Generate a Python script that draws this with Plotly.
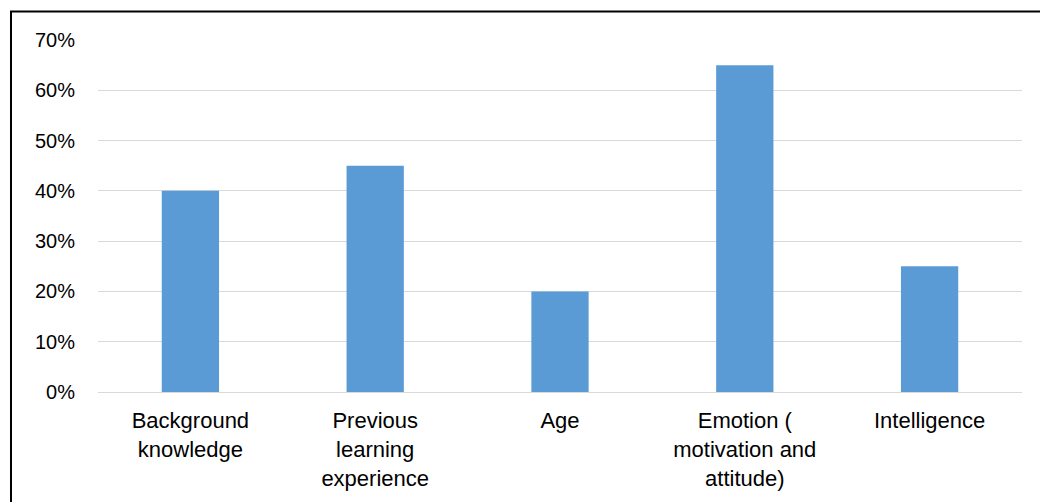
import plotly.graph_objects as go

# Factors and their share of responses
factors = [
    "Background<br>knowledge",
    "Previous<br>learning<br>experience",
    "Age",
    "Emotion (<br>motivation and<br>attitude)",
    "Intelligence",
]
shares = [0.40, 0.45, 0.20, 0.65, 0.25]
y_ticks = [0, 0.1, 0.2, 0.3, 0.4, 0.5, 0.6, 0.7]

W, H = 1040, 502
L, R, T, B = 98, 18, 40, 110

fig = go.Figure(
    go.Bar(
        x=factors,
        y=shares,
        marker=dict(color="#5b9bd5", line=dict(width=0)),
        width=0.31,
    )
)

# frame around the chart (left and top edges)
px_to_x = lambda p: (p - L) / (W - L - R)
px_to_y = lambda p: (H - B - p) / (H - T - B)
fig.add_shape(type="line", xref="paper", yref="paper",
              x0=px_to_x(11), x1=px_to_x(11), y0=px_to_y(11), y1=px_to_y(H + 5),
              line=dict(color="black", width=2))
fig.add_shape(type="line", xref="paper", yref="paper",
              x0=px_to_x(10), x1=px_to_x(W + 5), y0=px_to_y(11.5), y1=px_to_y(11.5),
              line=dict(color="black", width=2))

fig.update_layout(
    width=W,
    height=H,
    margin=dict(l=L, r=R, t=T, b=B),
    paper_bgcolor="white",
    plot_bgcolor="white",
    showlegend=False,
    font=dict(family="Liberation Sans, Arial, sans-serif", color="#000000"),
    xaxis=dict(
        showgrid=False,
        showline=True,
        linecolor="#d9d9d9",
        linewidth=1,
        ticks="outside",
        ticklen=9,
        tickcolor="rgba(0,0,0,0)",
        tickfont=dict(size=22),
    ),
    yaxis=dict(
        range=[0, 0.7],
        tickvals=y_ticks,
        tickformat=".0%",
        showgrid=True,
        gridcolor="#d9d9d9",
        gridwidth=1,
        zeroline=False,
        showline=False,
        ticks="outside",
        ticklen=18,
        tickcolor="rgba(0,0,0,0)",
        tickfont=dict(size=20),
    ),
)

fig.write_html("out.html")
